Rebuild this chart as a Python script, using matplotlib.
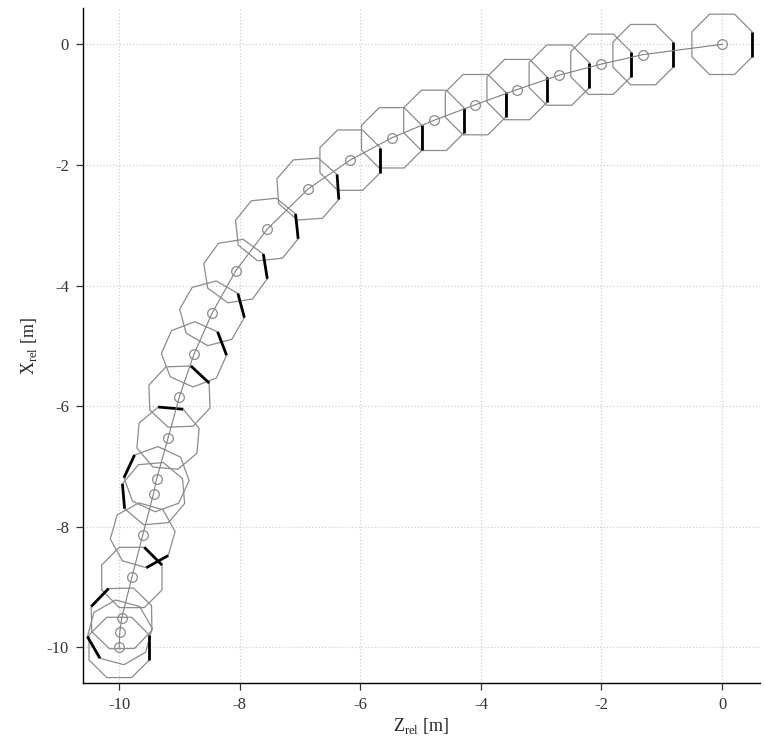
import numpy as np
import matplotlib
matplotlib.use("Agg")
import matplotlib.pyplot as plt

plt.rcParams['font.family'] = ['Liberation Serif', 'DejaVu Serif']
plt.rcParams['mathtext.fontset'] = 'custom'
plt.rcParams['mathtext.rm'] = 'Liberation Serif'
plt.rcParams['axes.unicode_minus'] = False

# body position samples (relative frame) [m]
z_rel = [0.0, -1.31, -2.01, -2.70, -3.40, -4.09, -4.78, -5.48, -6.17, -6.87,
         -7.55, -8.07, -8.46, -8.76, -9.00, -9.19, -9.38, -9.43, -9.61, -9.79,
         -9.96, -9.99, -10.0]
x_rel = [0.0, -0.17, -0.33, -0.51, -0.75, -1.00, -1.26, -1.55, -1.92, -2.40,
         -3.07, -3.76, -4.46, -5.14, -5.84, -6.53, -7.21, -7.45, -8.14, -8.84,
         -9.52, -9.75, -10.0]
# heading of the marked (front) face [deg]
yaw_deg = [0, 0, 0, 0, 0, 0, 0, 0, 0, 4,
           6, 9, 15, 21, 47, 85, 155, 185, 299, 45,
           136, 210, 0]

APOTHEM = 0.5  # half-width of the octagonal footprint [m]


def octagon(zc, xc, yaw):
    """Vertices of the footprint, first edge is the marked face."""
    r = APOTHEM / np.cos(np.pi / 8)
    ang = np.deg2rad(yaw) + np.pi / 8 * (2 * np.arange(9) - 1)
    return zc + r * np.cos(ang), xc + r * np.sin(ang)


fig = plt.figure(figsize=(7.65, 7.42), dpi=100)
ax = fig.add_axes([0.1085, 0.0795, 0.885, 0.9095])

for zc, xc, yaw in zip(z_rel, x_rel, yaw_deg):
    pz, px = octagon(zc, xc, yaw)
    ax.plot(pz, px, color='0.55', lw=0.9, zorder=2)
    ax.plot(pz[:2], px[:2], color='black', lw=2.0, zorder=3,
            solid_capstyle='butt')

ax.plot(z_rel, x_rel, color='0.5', lw=0.8, zorder=4)
ax.plot(z_rel, x_rel, ls='none', marker='o', ms=7, mfc='none',
        mec='0.55', mew=0.9, zorder=5)

ax.set_xlim(-10.6, 0.63)
ax.set_ylim(-10.59, 0.6)
ax.set_xticks(np.arange(-10, 1, 2))
ax.set_yticks(np.arange(-10, 1, 2))
ax.grid(True, ls=':', color='0.82', lw=0.9)
ax.set_axisbelow(True)

for side in ('top', 'right'):
    ax.spines[side].set_visible(False)
for side in ('left', 'bottom'):
    ax.spines[side].set_linewidth(1.0)
ax.tick_params(direction='out', length=5, width=0.9, pad=5,
               labelsize=12, labelcolor='0.2', color='0.2')

ax.set_xlabel(r'Z$_{\rm rel}$ [m]', fontsize=13, labelpad=2, color='0.15')
ax.set_ylabel(r'X$_{\rm rel}$ [m]', fontsize=13, labelpad=6, color='0.15')

fig.savefig('out.png', dpi=100)
